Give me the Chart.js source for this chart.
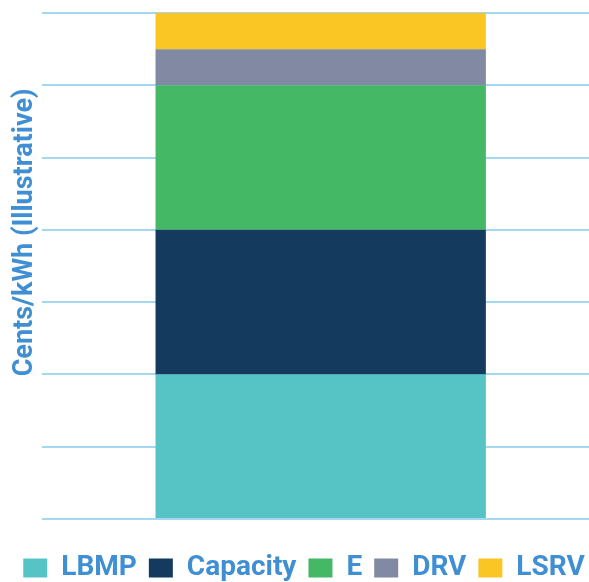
<!DOCTYPE html>
<html>
<head>
<meta charset="utf-8">
<script src="https://cdn.jsdelivr.net/npm/chart.js@4"></script>
<style>
  html, body { margin: 0; padding: 0; background: #ffffff; overflow: hidden; }
  #clip { width: 589px; height: 582px; overflow: hidden; position: relative; }
  #wrap { width: 599px; height: 594px; position: absolute; left: 0; top: 0; }
</style>
</head>
<body>
<div id="clip"><div id="wrap"><canvas id="c"></canvas></div></div>
<script>
// Stacked cost components, cents per kWh (illustrative units)
const categories = [''];
const seriesNames = ['LBMP', 'Capacity', 'E', 'DRV', 'LSRV'];
const lbmp = [2];
const capacity = [2];
const envValue = [2];
const drv = [0.5];
const lsrv = [0.5];
const seriesColors = ['#56c4c5', '#143a5e', '#44b864', '#8189a3', '#f9c623'];
const axisTitle = 'Cents/kWh (Illustrative)';

const seriesValues = [lbmp, capacity, envValue, drv, lsrv];
const textBlue = '#3f8fd2';

const datasets = seriesNames.map((name, i) => ({
  label: name,
  data: seriesValues[i],
  backgroundColor: seriesColors[i],
  borderWidth: 0,
  categoryPercentage: 1,
  barPercentage: 0.5935
}));

new Chart(document.getElementById('c'), {
  type: 'bar',
  data: { labels: categories, datasets },
  options: {
    responsive: true,
    maintainAspectRatio: false,
    animation: false,
    layout: { padding: { left: 9, right: 0, top: 13, bottom: 2 } },
    plugins: {
      tooltip: { enabled: false },
      legend: {
        position: 'bottom',
        labels: {
          boxWidth: 24,
          boxHeight: 19,
          padding: 12,
          color: textBlue,
          font: { family: 'Roboto', weight: 'bold', size: 28 }
        }
      }
    },
    scales: {
      x: {
        stacked: true,
        grid: { display: false },
        border: { display: false },
        ticks: { display: false },
        title: {
          display: true,
          text: ' ',
          font: { size: 10 },
          padding: { top: 3, bottom: 0 }
        }
      },
      y: {
        stacked: true,
        min: 0,
        max: 7,
        ticks: { display: false, stepSize: 1 },
        border: { display: false },
        grid: { color: '#a3d8f0', lineWidth: 2, drawTicks: false },
        title: {
          display: true,
          text: '          ' + axisTitle,
          color: textBlue,
          font: { family: 'Roboto', weight: 'bold', size: 27 },
          padding: { top: 0, bottom: 1 }
        }
      }
    }
  }
});
</script>
</body>
</html>
